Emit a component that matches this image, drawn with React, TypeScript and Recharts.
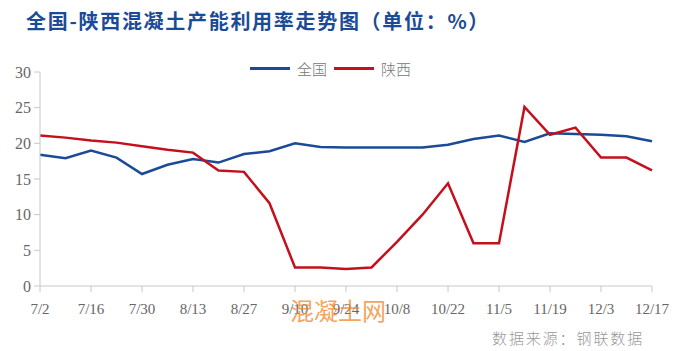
import { Line, LineChart, XAxis, YAxis } from "recharts";

const weeks = [
  "7/2", "7/9", "7/16", "7/23", "7/30", "8/6", "8/13", "8/20", "8/27",
  "9/3", "9/10", "9/17", "9/24", "10/1", "10/8", "10/15", "10/22", "10/29",
  "11/5", "11/12", "11/19", "11/26", "12/3", "12/10", "12/17",
];

const nationalRate = [
  18.4, 17.9, 19.0, 18.0, 15.7, 17.0, 17.8, 17.3, 18.5,
  18.9, 20.0, 19.5, 19.4, 19.4, 19.4, 19.4, 19.8, 20.6,
  21.1, 20.2, 21.4, 21.3, 21.2, 21.0, 20.3,
];

const shaanxiRate = [
  21.1, 20.8, 20.4, 20.1, 19.6, 19.1, 18.7, 16.2, 16.0,
  11.6, 2.6, 2.6, 2.4, 2.6, 6.2, 10.0, 14.4, 6.0,
  6.0, 25.1, 21.2, 22.2, 18.0, 18.0, 16.2,
];

const yTicks = [0, 5, 10, 15, 20, 25, 30];

const series = [
  { key: "national", label: "全国", color: "#1b4b96" },
  { key: "shaanxi", label: "陕西", color: "#c3101c" },
];

const AXIS = "#c8c8c8";
const TICK_TEXT = "#666666";
const SERIF = '"Liberation Serif", "Times New Roman", serif';
const CJK = '"Noto Sans CJK SC", sans-serif';

const data = weeks.map((week, i) => ({
  week,
  national: nationalRate[i],
  shaanxi: shaanxiRate[i],
}));

export default function App() {
  return (
    <div style={{ position: "absolute", left: 0, top: 0, width: 676, height: 351, background: "#fff" }}>
      <div
        style={{
          position: "absolute",
          left: 26,
          top: 6,
          fontFamily: CJK,
          fontWeight: 700,
          fontSize: 20,
          color: "#1b4b96",
          letterSpacing: 1.7,
          whiteSpace: "nowrap",
        }}
      >
        全国-陕西混凝土产能利用率走势图（单位：%）
      </div>

      {/* legend */}
      <div style={{ position: "absolute", left: 250, top: 58, display: "flex", alignItems: "center", gap: 7 }}>
        {series.map((s) => (
          <div key={s.key} style={{ display: "flex", alignItems: "center", gap: 7 }}>
            <span style={{ width: 40, height: 3, backgroundColor: s.color, display: "inline-block" }} />
            <span style={{ fontFamily: CJK, fontSize: 15, color: "#777", fontWeight: 300 }}>{s.label}</span>
          </div>
        ))}
      </div>

      <LineChart width={676} height={351} data={data} margin={{ top: 72, right: 24, bottom: 35, left: 0 }}>
        <XAxis
          dataKey="week"
          interval={1}
          stroke={AXIS}
          tickLine={{ stroke: AXIS }}
          tickSize={6}
          tick={{ fill: TICK_TEXT, fontSize: 15, fontFamily: SERIF }}
          tickMargin={11}
          height={30}
        />
        <YAxis
          domain={[0, 30]}
          ticks={yTicks}
          width={40}
          stroke={AXIS}
          tickLine={{ stroke: AXIS }}
          tickSize={6}
          tickMargin={3}
          tick={{ fill: TICK_TEXT, fontSize: 16, fontFamily: SERIF }}
        />
        {series.map((s) => (
          <Line
            key={s.key}
            type="linear"
            dataKey={s.key}
            name={s.label}
            stroke={s.color}
            strokeWidth={2.5}
            dot={false}
            isAnimationActive={false}
          />
        ))}
      </LineChart>

      <div
        style={{
          position: "absolute",
          left: 290,
          top: 292,
          fontFamily: CJK,
          fontSize: 24,
          color: "rgba(240, 140, 50, 0.8)",
          whiteSpace: "nowrap",
        }}
      >
        混凝土网
      </div>

      <div
        style={{
          position: "absolute",
          left: 492,
          top: 327,
          fontFamily: CJK,
          fontSize: 15,
          color: "#999",
          fontWeight: 300,
          letterSpacing: 1.9,
          whiteSpace: "nowrap",
        }}
      >
        数据来源：钢联数据
      </div>
    </div>
  );
}
